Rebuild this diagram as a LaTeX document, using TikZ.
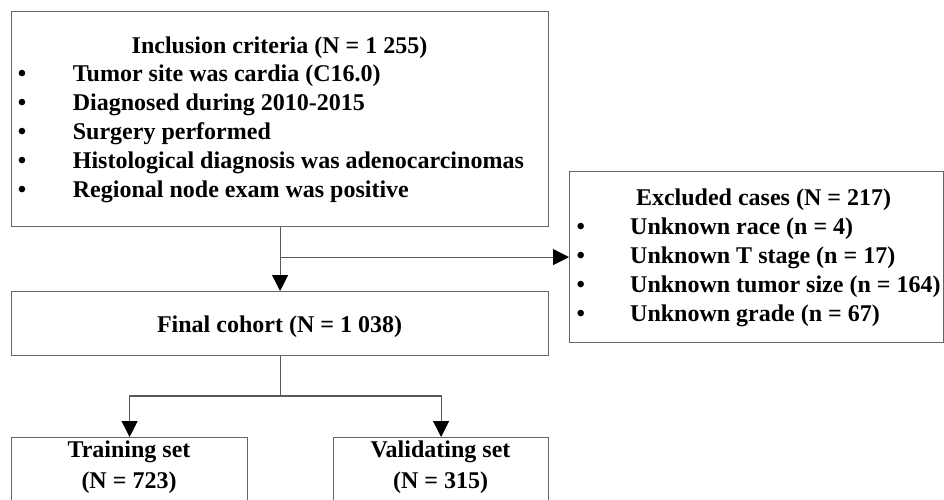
\documentclass[tikz,border=0pt]{standalone}
\usepackage{fontspec}
\setmainfont{Liberation Serif}
\usetikzlibrary{arrows.meta,calc}
\begin{document}
\begin{tikzpicture}[x=1pt,y=-1pt,
  every node/.style={font=\fontsize{24}{28.8}\selectfont\bfseries, inner sep=0pt},
  box/.style={draw=black!60, line width=1.2pt, rectangle, anchor=north west, inner sep=0pt},
  conn/.style={draw=black!65, line width=1.1pt},
  arr/.style={conn, -{Triangle[length=16pt,width=16pt,fill=black,color=black]}},
  txt/.style={anchor=base west},
  ttl/.style={anchor=base},
  bul/.style={anchor=base}]
\useasboundingbox (0,0) rectangle (944,499);
% boxes
\node[box, minimum width=537pt, minimum height=215pt] (incl) at (11,11) {};
\node[box, minimum width=374pt, minimum height=171pt] (excl) at (569,171) {};
\node[box, minimum width=537pt, minimum height=64pt] (final) at (11,291) {};
\node[box, minimum width=236pt, minimum height=90pt] (train) at (11,437) {};
\node[box, minimum width=215pt, minimum height=90pt] (valid) at (333,437) {};
% inclusion text
\node[ttl] (t0) at (279.5,53) {Inclusion criteria (N = 1 255)};
\foreach \y/\s [count=\i] in {81.8/Tumor site was cardia (C16.0),
  110.6/Diagnosed during 2010-2015,
  139.4/Surgery performed,
  168.2/Histological diagnosis was adenocarcinomas,
  197/Regional node exam was positive}{
  \node[bul] (ib\i) at (22,\y) {•};
  \node[txt] (it\i) at (72.7,\y) {\s};
}
% excluded text
\node[ttl] (e0) at (763.5,205.5) {Excluded cases (N = 217)};
\foreach \y/\s [count=\i] in {234.7/Unknown race (n = 4),
  263.5/Unknown T stage (n = 17),
  292.3/Unknown tumor size (n = 164),
  321/Unknown grade (n = 67)}{
  \node[bul] (eb\i) at (580.7,\y) {•};
  \node[txt] (et\i) at (630,\y) {\s};
}
% final, train, valid
\node[ttl] (f0) at (279.5,332) {Final cohort (N = 1 038)};
\node[ttl] (tr1) at (129,457.5) {Training set};
\node[ttl] (tr2) at (129,488) {(N = 723)};
\node[ttl] (va1) at (440.5,457.5) {Validating set};
\node[ttl] (va2) at (440.5,488) {(N = 315)};
% connectors
\coordinate (split) at (final.south |- 0,396);
\draw[arr] (incl.south) -- (final.north);
\draw[arr] (incl.south |- excl.west) -- (excl.west);
\draw[conn] (final.south) -- (split);
\draw[arr] (split) -| (train.north);
\draw[arr] (split) -| (valid.north);
\end{tikzpicture}
\end{document}
